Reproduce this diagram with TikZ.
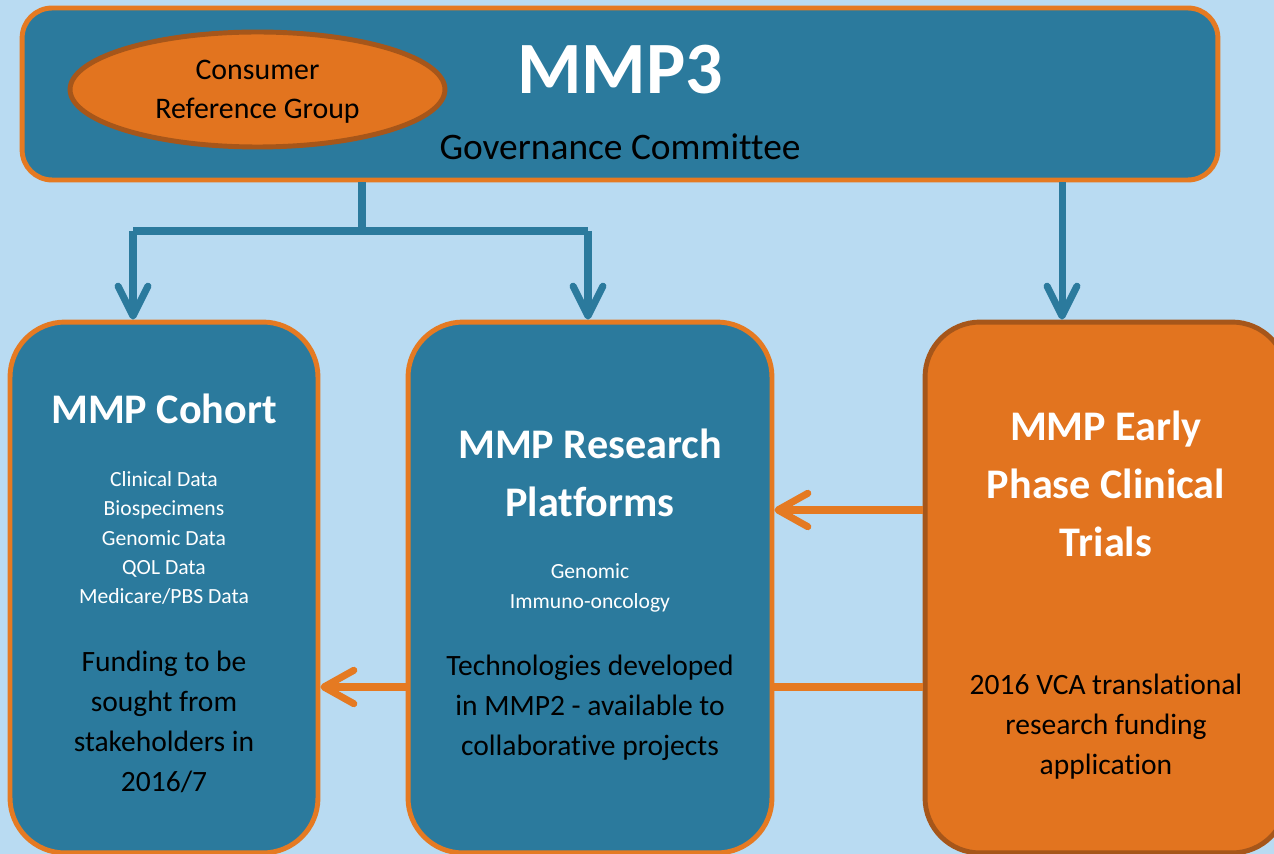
\documentclass[tikz,border=0pt]{standalone}
\usepackage{fontspec}
\setmainfont{Carlito}[Ligatures=NoCommon]
\usetikzlibrary{arrows.meta,shapes.geometric,positioning}

\definecolor{skyback}{HTML}{B9DBF2}
\definecolor{mmpteal}{HTML}{2B7A9D}
\definecolor{mmporange}{HTML}{E2741F}
\definecolor{rimorange}{HTML}{E57A22}
\definecolor{darkrim}{HTML}{A6561A}

\tikzset{
  govbox/.style={rectangle,rounded corners=0.6cm,fill=mmpteal,draw=rimorange,line width=2.8pt,inner sep=0pt},
  tealbox/.style={rectangle,rounded corners=1.1cm,fill=mmpteal,draw=rimorange,line width=2.8pt,inner sep=0pt,
    minimum height=10.62cm},
  trialbox/.style={rectangle,rounded corners=1.1cm,fill=mmporange,draw=darkrim,line width=2.8pt,inner sep=0pt,
    minimum height=10.62cm},
  boxtitle/.style={align=center,text=white,font=\fontsize{24}{33}\selectfont\bfseries},
  listtext/.style={align=center,text=white,font=\fontsize{12.3}{16.6}\selectfont},
  bodytext/.style={align=center,text=black,font=\fontsize{16.8}{22.8}\selectfont},
  blueline/.style={draw=mmpteal,line width=4pt},
  bluearrow/.style={blueline,-{Straight Barb[length=17pt,width=17pt,round]}},
  orangeline/.style={draw=rimorange,line width=4pt},
  orangearrow/.style={orangeline,-{Straight Barb[length=17pt,width=19pt,round]}}
}

\begin{document}
\begin{tikzpicture}[x=0.02cm,y=-0.02cm]
  \fill[skyback] (0,0) rectangle (1274,854);
  \useasboundingbox (0,0) rectangle (1274,854);
  \clip (0,0) rectangle (1274,854);

  % governance committee
  \node[govbox,minimum width=23.92cm,minimum height=3.44cm] (gov) at (620,94) {};
  \node[ellipse,fill=mmporange,draw=darkrim,line width=2.8pt,minimum width=7.5cm,minimum height=2.3cm,
    align=center,font=\fontsize{17}{22.2}\selectfont] (consumer) at (257.5,89.5) {};
  \node[align=center,font=\fontsize{17}{22.2}\selectfont] (consumerlabel) at (257.5,92) {Consumer\\Reference Group};
  \node[text=white,font=\fontsize{42}{50}\selectfont\bfseries] (mmp3) at (620,70) {MMP3};
  \node[font=\fontsize{21.3}{26}\selectfont] (govlabel) at (620,147) {Governance Committee};

  % the three streams
  \node[tealbox,minimum width=6.16cm] (cohort) at (164,587.5) {};
  \node[tealbox,minimum width=7.28cm] (research) at (590,587.5) {};
  \node[trialbox,minimum width=7.24cm] (trials) at (1106,587.5) {};

  \node[boxtitle] (cohorttitle) at (164,409) {MMP Cohort};
  \node[listtext] (cohortlist) at (164,538) {Clinical Data\\Biospecimens\\Genomic Data\\QOL Data\\Medicare/PBS Data};
  \node[bodytext] (cohortfund) at (164,722) {Funding to be\\sought from\\stakeholders in\\2016/7};

  \node[boxtitle] (researchtitle) at (590,473) {MMP Research\\Platforms};
  \node[listtext] (researchlist) at (590,588) {Genomic\\Immuno-oncology};
  \node[bodytext] (researchtech) at (590,708) {Technologies developed\\in MMP2 - available to\\collaborative projects};

  \node[boxtitle] (trialstitle) at (1106,484) {MMP Early\\Phase Clinical\\Trials};
  \node[bodytext] (trialsfund) at (1106,727) {2016 VCA translational\\research funding\\application};

  % connectors
  \coordinate (lbranch) at (133,231);
  \coordinate (rbranch) at (588,231);
  \coordinate (trunk) at (362,231);
  \coordinate (rightdrop) at (1062,0);
  \coordinate (upperlink) at (0,510);
  \coordinate (lowerlink) at (0,687);

  \draw[blueline] (gov.south -| trunk) -- (trunk);
  \draw[blueline] (lbranch) -- (rbranch);
  \draw[bluearrow] (lbranch) -- (lbranch |- cohort.north);
  \draw[bluearrow] (rbranch) -- (rbranch |- research.north);
  \draw[bluearrow] (gov.south -| rightdrop) -- (trials.north -| rightdrop);

  \draw[orangearrow] (trials.west |- upperlink) -- (research.east |- upperlink);
  \draw[orangeline] (trials.west |- lowerlink) -- (research.east |- lowerlink);
  \draw[orangearrow] (research.west |- lowerlink) -- (cohort.east |- lowerlink);
\end{tikzpicture}
\end{document}
